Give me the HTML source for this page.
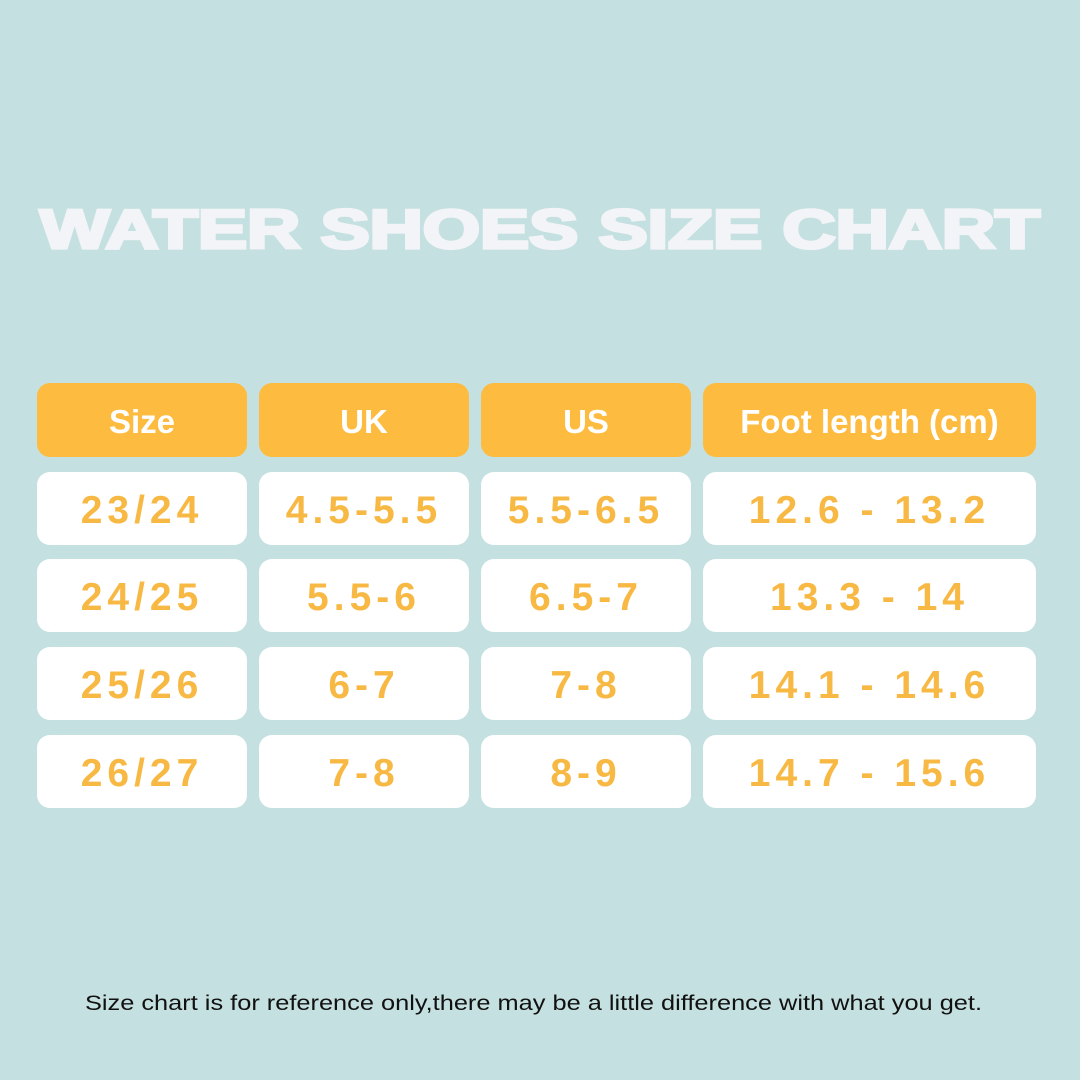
<!DOCTYPE html>
<html><head><style>
html,body{margin:0;padding:0}
body{width:1080px;height:1080px;background:#c5e0e0;position:relative;overflow:hidden;font-family:"Liberation Sans",sans-serif}
.c{position:absolute;border-radius:13px;display:flex;align-items:center;justify-content:center;font-weight:bold}
.h{background:#fdbb3f;color:#fff;font-size:33px;height:74px;top:383px;padding-top:4px;box-sizing:border-box}
.r{background:#fff;color:#f7b944;font-size:39px;letter-spacing:5px;height:73px;padding-top:4px;box-sizing:border-box}
svg{position:absolute;left:0;top:0}
</style></head><body>
<svg width="1080" height="1080">
<text x="40" y="248" textLength="1000" lengthAdjust="spacingAndGlyphs" font-family="Liberation Sans" font-weight="900" font-size="68" fill="#f2f4f8" stroke="#f2f4f8" stroke-width="4" transform="translate(0,248) scale(1,0.8) translate(0,-248)">WATER SHOES SIZE CHART</text>
<text x="85" y="1010" textLength="897" lengthAdjust="spacingAndGlyphs" font-family="Liberation Sans" font-size="21" fill="#111">Size chart is for reference only,there may be a little difference with what you get.</text>
</svg>
<div class="c h" style="left:37px;width:210px">Size</div>
<div class="c h" style="left:259px;width:210px">UK</div>
<div class="c h" style="left:481px;width:210px">US</div>
<div class="c h" style="left:703px;width:333px">Foot length (cm)</div>

<div class="c r" style="top:472px;left:37px;width:210px">23/24</div>
<div class="c r" style="top:472px;left:259px;width:210px">4.5-5.5</div>
<div class="c r" style="top:472px;left:481px;width:210px">5.5-6.5</div>
<div class="c r" style="top:472px;left:703px;width:333px">12.6 - 13.2</div>

<div class="c r" style="top:559px;left:37px;width:210px">24/25</div>
<div class="c r" style="top:559px;left:259px;width:210px">5.5-6</div>
<div class="c r" style="top:559px;left:481px;width:210px">6.5-7</div>
<div class="c r" style="top:559px;left:703px;width:333px">13.3 - 14</div>

<div class="c r" style="top:647px;left:37px;width:210px">25/26</div>
<div class="c r" style="top:647px;left:259px;width:210px">6-7</div>
<div class="c r" style="top:647px;left:481px;width:210px">7-8</div>
<div class="c r" style="top:647px;left:703px;width:333px">14.1 - 14.6</div>

<div class="c r" style="top:735px;left:37px;width:210px">26/27</div>
<div class="c r" style="top:735px;left:259px;width:210px">7-8</div>
<div class="c r" style="top:735px;left:481px;width:210px">8-9</div>
<div class="c r" style="top:735px;left:703px;width:333px">14.7 - 15.6</div>
</body></html>
